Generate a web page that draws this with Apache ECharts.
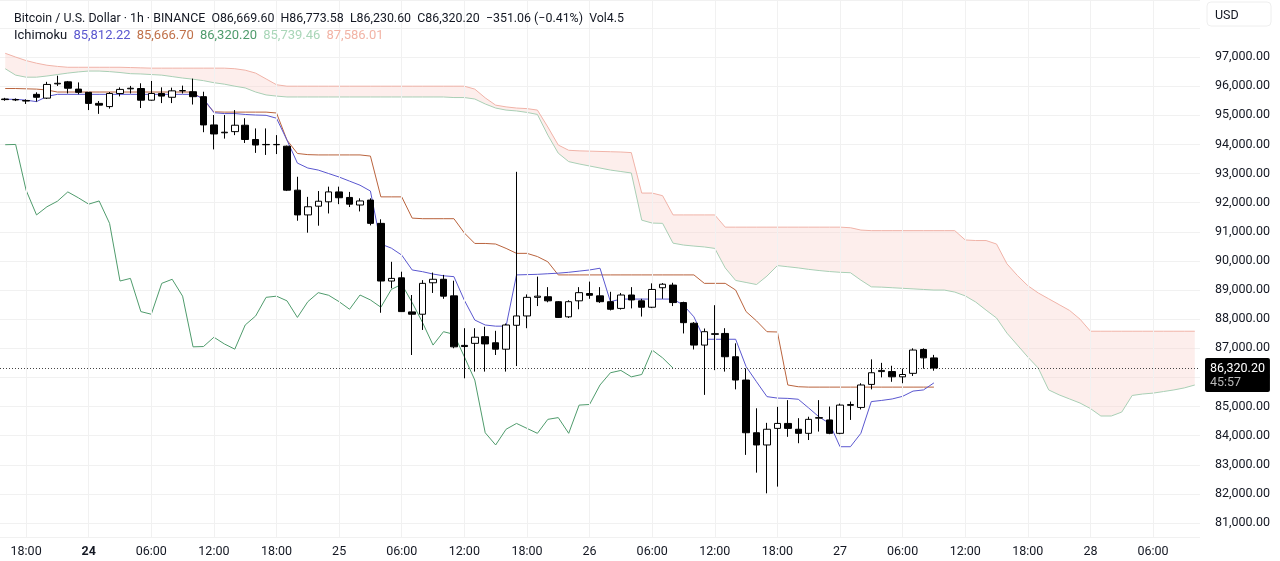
<!DOCTYPE html>
<html><head><meta charset="utf-8">
<script src="https://cdn.jsdelivr.net/npm/echarts@6/dist/echarts.min.js"></script>
<style>html,body{margin:0;padding:0;background:#fff}#c{width:1280px;height:561px}</style>
</head><body><div id="c"></div>
<script>
// hour index h runs from -2 (23 16:00) ; categories cover h=-2..112
const FIRST_H = -2, N_CATS = 115;
const tickLabels = ['18:00','24','06:00','12:00','18:00','25','06:00','12:00','18:00','26','06:00','12:00','18:00','27','06:00','12:00','18:00','28','06:00'];

// candles h=-2..87
const opens  = [95560,95540,95510,95720,95590,96080,96150,95900,95790,95410,95300,95750,95910,95920,95520,95750,95620,95840,95810,95640,94670,94400,94440,94660,94170,94000,93990,93940,92430,91580,91880,92030,92370,92180,91920,92090,91290,89310,89420,88250,88170,89250,89370,88800,87100,87170,87400,87190,86970,87790,88110,88750,88770,88600,88080,88630,88880,88800,88600,88370,88830,88630,88410,89080,89170,88570,87860,87110,87500,87510,86710,85910,84100,83680,84250,84420,84220,84080,84600,84540,84080,85040,84970,85760,86200,86200,86020,86140,86960,86669.60];
const closes = [95540,95530,95490,95620,96060,96100,95930,95790,95410,95350,95750,95890,95930,95520,95750,95660,95840,95850,95640,94670,94360,94420,94660,94170,93980,93990,94000,92430,91580,91860,92050,92370,92170,91950,92060,91290,89310,89400,88260,88170,89230,89370,88790,87050,87060,87380,87150,86970,87800,88110,88750,88790,88630,88060,88600,88910,88820,88600,88340,88830,88660,88410,89020,89200,88570,87880,87110,87570,87480,86710,85910,84100,83680,84220,84420,84250,84080,84560,84620,84080,85050,85070,85740,86160,86240,86020,86100,86940,86671.26,86320.20];
const lows   = [95500,95490,95390,95470,95560,96010,95750,95720,95180,95050,95230,95650,95750,95250,95500,95420,95420,95750,95370,94420,93830,94200,94320,94050,93710,93640,93670,92400,91380,90970,91210,91630,91950,91850,91700,91220,88220,89060,88250,86770,87630,88900,88700,87000,85970,86200,86200,86770,86200,86390,87690,88450,88580,88040,88040,88340,88700,88560,88300,88330,88370,88090,88380,88700,88450,87510,86960,85400,86250,86200,85590,83340,82730,82020,82250,83960,83740,83850,84140,84050,84050,84540,84900,85590,86000,85850,85800,86050,86300,86230.60];
const highs  = [95600,95580,95550,95790,96150,96360,96180,96130,95800,95490,95800,95960,96010,96100,96180,95960,95950,96020,96260,95810,95010,95010,95180,94900,94550,94550,94320,93960,92890,92200,92400,92550,92550,92370,92150,92150,91430,89970,89630,88830,89340,89600,89520,89320,87690,87690,87740,87600,87850,93060,88850,89460,89100,88620,88650,89100,89290,89100,88940,88900,89100,88700,89230,89240,89250,88600,87900,87680,88480,87690,87170,86310,84940,84440,84990,85220,84600,84650,85220,85000,85100,85170,85800,86620,86500,86400,86300,87000,87000,86773.58];
const lastVolume = '4.5';

// Ichimoku lines
const tenkan = [95550,95550,95520,95470,95650,95720,95720,95720,95720,95720,95720,95720,95720,95720,95720,95720,95720,95720,95720,95580,95090,95060,95060,95030,95010,95000,94900,94150,93360,93190,93120,93000,92880,92740,92600,92400,90580,90440,90200,89690,89630,89550,89490,89460,88650,87970,87800,87760,87760,89520,89530,89540,89560,89580,89610,89650,89690,89750,88600,88690,88690,88690,88690,88690,88690,88480,88080,87310,87310,87310,87310,86370,85850,85340,85290,85280,85250,84950,84640,84420,83620,83620,84080,85170,85210,85260,85350,85530,85570,85812.22];
const kijun = [95920,95920,95910,95900,95870,95800,95800,95800,95800,95800,95800,95800,95800,95800,95800,95800,95800,95800,95800,95520,95120,95110,95110,95110,95110,95110,95080,94150,93690,93650,93640,93640,93640,93640,93640,93600,92200,92200,92200,91470,91450,91450,91450,91450,90960,90600,90600,90580,90430,90260,90260,90150,89970,89520,89520,89520,89520,89520,89520,89520,89520,89520,89520,89520,89520,89520,89520,89230,89230,89230,89000,88260,87940,87570,87560,85740,85680,85666.7,85666.7,85666.7,85666.7,85666.7,85666.7,85666.7,85666.7,85666.7,85666.7,85666.7,85666.7,85666.7];
const spanA = [96600,96380,96310,96310,96350,96400,96450,96490,96520,96520,96500,96470,96430,96420,96400,96380,96330,96280,96240,96190,96120,96070,96000,95940,95800,95700,95660,95630,95630,95630,95630,95630,95630,95630,95630,95630,95630,95630,95630,95630,95630,95630,95630,95610,95610,95560,95390,95250,95180,95150,95100,95030,94320,93700,93410,93330,93260,93190,93120,93070,93020,91400,91300,91290,90610,90545,90510,90480,90430,89760,89330,89260,89190,89480,89840,89800,89760,89710,89670,89635,89610,89595,89340,89110,89100,89080,89060,89040,89020,89000,89000,88930,88800,88590,88310,88040,87520,87110,86700,86320,85570,85400,85260,85120,84930,84675,84675,84810,85380,85430,85460,85515,85570,85640,85739.46];
const spanB = [97130,97000,96880,96790,96720,96680,96650,96650,96650,96650,96650,96650,96640,96630,96620,96620,96620,96620,96620,96620,96620,96620,96600,96550,96450,96250,96050,96000,96000,96000,96000,96000,96000,96000,96000,96000,96000,96000,96000,96000,96000,96000,96000,96000,96000,95900,95600,95350,95290,95250,95230,95180,94600,93980,93800,93780,93770,93760,93750,93740,93720,92330,92330,92240,91580,91580,91580,91580,91580,91160,91160,91160,91160,91160,91160,91160,91160,91160,91160,91160,91160,91140,91060,91040,91040,91040,91040,91040,91040,91040,91040,91040,90720,90700,90700,90580,89900,89500,89150,88900,88700,88500,88300,88000,87586.01,87586.01,87586.01,87586.01,87586.01,87586.01,87586.01,87586.01,87586.01,87586.01,87586.01];
const CHIKOU_SHIFT = 25;
const countdown = '45:57';
const Y_LABEL_TOP = 97000;

const cats = [];
for (let i = 0; i < N_CATS; i++) {
  const t = 18 + FIRST_H + i;
  const d = 23 + Math.floor(t / 24);
  const hr = ((t % 24) + 24) % 24;
  cats.push(d + ' ' + String(hr).padStart(2, '0') + ':00');
}
const isTick = idx => idx >= 2 && (idx - 2) % 6 === 0;
const fmt = v => v.toFixed(2).replace(/\B(?=(\d{3})+(?!\d))/g, ',');
const pad = arr => arr.concat(Array(N_CATS - arr.length).fill(null));

const candleData = opens.map((o, i) => [o, closes[i], lows[i], highs[i]]);
const chikou = pad(closes.slice(CHIKOU_SHIFT));
const band = spanB.map((b, i) => b - spanA[i]);
const last = closes.length - 1;
const lastClose = closes[last];
const prevClose = closes[last - 1];
const chg = lastClose - prevClose;
const sign = chg < 0 ? '−' : '+';
const FONT = 'Roboto, sans-serif';

const C = {tenkan:'#5a57cf', kijun:'#b9633d', chikou:'#4f9b6c', spanA:'#a9cfb5', spanB:'#f0b3a8', cloud:'rgba(250,208,202,0.5)'};

const chart = echarts.init(document.getElementById('c'), null, {renderer:'canvas'});
const header =
  '{k|Bitcoin / U.S. Dollar · 1h · BINANCE}  {k|O' + fmt(opens[last]) + '}  {k|H' + fmt(highs[last]) + '}  {k|L' + fmt(lows[last]) + '}  {k|C' + fmt(lastClose) + '}  {k|' + sign + fmt(Math.abs(chg)) + ' (' + sign + (Math.abs(chg) / prevClose * 100).toFixed(2) + '%)}  {k|Vol' + lastVolume + '}\n' +
  '{i|Ichimoku}  {t|' + fmt(tenkan[last]) + '}  {b|' + fmt(kijun[last]) + '}  {g|' + fmt(lastClose) + '}  {a|' + fmt(spanA[spanA.length-1]) + '}  {s|' + fmt(spanB[spanB.length-1]) + '}';

const HF = 13, HF1 = 12.4;
chart.setOption({
  animation: false,
  title: {
    left: 9, top: 5, text: header,
    textStyle: {
      fontFamily: FONT, fontSize: HF1, fontWeight: 'normal', color: '#131722', lineHeight: 17,
      rich: {
        k: {fontFamily: FONT, fontSize: HF1, color: '#131722', lineHeight: 17},
        i: {fontFamily: FONT, fontSize: HF, color: '#131722', lineHeight: 17},
        t: {fontFamily: FONT, fontSize: HF, color: '#5a57cf', lineHeight: 17},
        b: {fontFamily: FONT, fontSize: HF, color: '#c0714a', lineHeight: 17},
        g: {fontFamily: FONT, fontSize: HF, color: '#4f9b6c', lineHeight: 17},
        a: {fontFamily: FONT, fontSize: HF, color: '#a9d6b8', lineHeight: 17},
        s: {fontFamily: FONT, fontSize: HF, color: '#f2b4a6', lineHeight: 17}
      }
    }
  },
  grid: {left: 0, right: 80, top: 0, bottom: 24},
  xAxis: {
    type: 'category', data: cats, boundaryGap: true,
    axisLine: {show: false}, axisTick: {show: false}, splitLine: {show: false},
    axisLabel: {
      interval: (idx) => isTick(idx), margin: 8, fontFamily: FONT, fontSize: 12.5, color: '#131722',
      formatter: (v, idx) => { const s = tickLabels[(idx - 2) / 6]; return s === '24' ? '{d|24}' : (s || ''); },
      rich: {d: {fontWeight: 'bold', fontFamily: FONT, fontSize: 12.5, color: '#131722'}}
    }
  },
  yAxis: {
    type: 'value', position: 'right', scale: true, min: 80520, max: 98960,
    minInterval: 1000, maxInterval: 1000,
    axisLine: {show: false}, axisTick: {show: false},
    splitLine: {lineStyle: {color: '#f1f1f1', width: 1}},
    axisLabel: {showMinLabel: false, showMaxLabel: false, margin: 15, fontFamily: FONT, fontSize: 12.5, color: '#131722',
      formatter: v => v > Y_LABEL_TOP ? '' : fmt(v)}
  },
  graphic: [
    {type: 'rect', shape: {x: 1207, y: 2, width: 64, height: 24, r: 4}, style: {fill: '#fff', stroke: '#eeeeee'}},
    {type: 'text', style: {text: 'USD', x: 1215, y: 9, fontFamily: FONT, fontSize: 12.5, fill: '#131722'}}
  ],
  series: [
    {
      name: 'spanA', type: 'line', data: spanA, stack: 'cloud', symbol: 'none', silent: true, z: 1,
      lineStyle: {color: C.spanA, width: 1},
      markLine: {
        silent: true, symbol: ['none', 'none'], label: {show: false},
        lineStyle: {color: '#f1f1f1', width: 1, type: 'solid'},
        data: cats.map((c, i) => i).filter(isTick).map(i => ({xAxis: cats[i]}))
      }
    },
    {
      name: 'cloud', type: 'line', data: band, stack: 'cloud', symbol: 'none', silent: true, z: 1,
      lineStyle: {color: C.spanB, width: 1}, areaStyle: {color: C.cloud}
    },
    {name: 'chikou', type: 'line', data: chikou, symbol: 'none', silent: true, z: 2, lineStyle: {color: C.chikou, width: 1}},
    {name: 'kijun', type: 'line', data: pad(kijun), symbol: 'none', silent: true, z: 3, lineStyle: {color: C.kijun, width: 1}},
    {name: 'tenkan', type: 'line', data: pad(tenkan), symbol: 'none', silent: true, z: 3, lineStyle: {color: C.tenkan, width: 1}},
    {
      name: 'BTCUSD', type: 'candlestick', data: candleData, barWidth: 7, z: 5,
      itemStyle: {color: '#ffffff', color0: '#000000', borderColor: '#000000', borderColor0: '#000000', borderWidth: 1},
      markLine: {
        silent: true, symbol: ['none', 'none'],
        data: [{yAxis: lastClose}],
        lineStyle: {color: '#444', width: 1, type: [1, 2]},
        label: {
          show: true, position: 'end', distance: 5, offset: [0, 7],
          formatter: () => '{p|' + fmt(lastClose) + '}\n{c|' + countdown + '}',
          backgroundColor: '#000', padding: [4, 5, 3, 5], borderRadius: 2,
          rich: {
            p: {color: '#fff', fontFamily: FONT, fontSize: 12.5, lineHeight: 14},
            c: {color: '#b8b8b8', fontFamily: FONT, fontSize: 12.5, lineHeight: 13}
          }
        }
      }
    }
  ]
});
</script></body></html>
